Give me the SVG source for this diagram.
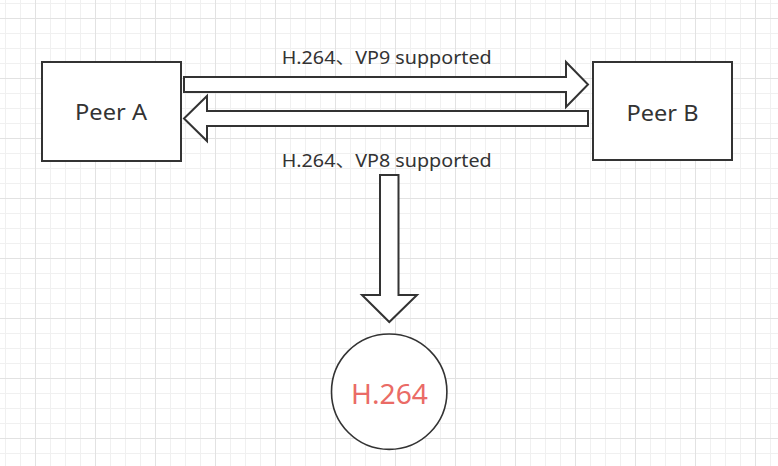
<svg xmlns="http://www.w3.org/2000/svg" width="778" height="466" viewBox="0 0 778 466">
  <defs>
    <pattern id="grid" patternUnits="userSpaceOnUse" x="35" y="18" width="60" height="60">
      <path d="M15.5 0V60M30.5 0V60M45.5 0V60M0 15.5H60M0 30.5H60M0 45.5H60" stroke="#f0f0f0" stroke-width="1" fill="none"/>
      <path d="M0.5 0V60M0 0.5H60" stroke="#e2e2e2" stroke-width="1" fill="none"/>
    </pattern>
    <style>
      .box { fill: #ffffff; stroke: #333333; stroke-width: 2; }
      .arrow { fill: #ffffff; stroke: #333333; stroke-width: 2; stroke-linejoin: miter; }
      .circle { fill: #ffffff; stroke: #333333; stroke-width: 1.6; }
      .lbl { font-family: "Comic Sans MS", "Noto Sans", "Noto Sans CJK SC", sans-serif; fill: #333333; text-anchor: middle; }
      .node { font-size: 22px; }
      .edge { font-size: 18px; }
      .red { fill: #ea6b66; font-size: 28px; }
    </style>
  </defs>
  <rect x="0" y="0" width="778" height="466" fill="#ffffff"/>
  <rect x="0" y="0" width="778" height="466" fill="url(#grid)"/>

  <g id="connectors">
    <polygon class="arrow" points="184,77 566,77 566,62 588,84.5 566,107 566,92 184,92"/>
    <polygon class="arrow" points="588,111 207,111 207,96 184,118.5 207,141 207,126 588,126"/>
    <polygon class="arrow" points="380,175 398.5,175 398.5,295 417,295 389.3,322 362,295 380,295"/>
    <text class="lbl edge" x="386.7" y="63.5" textLength="210" lengthAdjust="spacingAndGlyphs">H.264、VP9 supported</text>
    <text class="lbl edge" x="386.7" y="167" textLength="210" lengthAdjust="spacingAndGlyphs">H.264、VP8 supported</text>
  </g>

  <g id="peer-a">
    <rect class="box" x="42" y="62" width="139" height="99"/>
    <text class="lbl node" x="111" y="120" textLength="72" lengthAdjust="spacingAndGlyphs">Peer A</text>
  </g>

  <g id="peer-b">
    <rect class="box" x="593" y="62" width="139" height="98"/>
    <text class="lbl node" x="662.5" y="120.5" textLength="72" lengthAdjust="spacingAndGlyphs">Peer B</text>
  </g>

  <g id="codec">
    <circle class="circle" cx="389.2" cy="391.7" r="57.7"/>
    <text class="lbl red" x="389.5" y="404" textLength="77" lengthAdjust="spacingAndGlyphs">H.264</text>
  </g>
</svg>
